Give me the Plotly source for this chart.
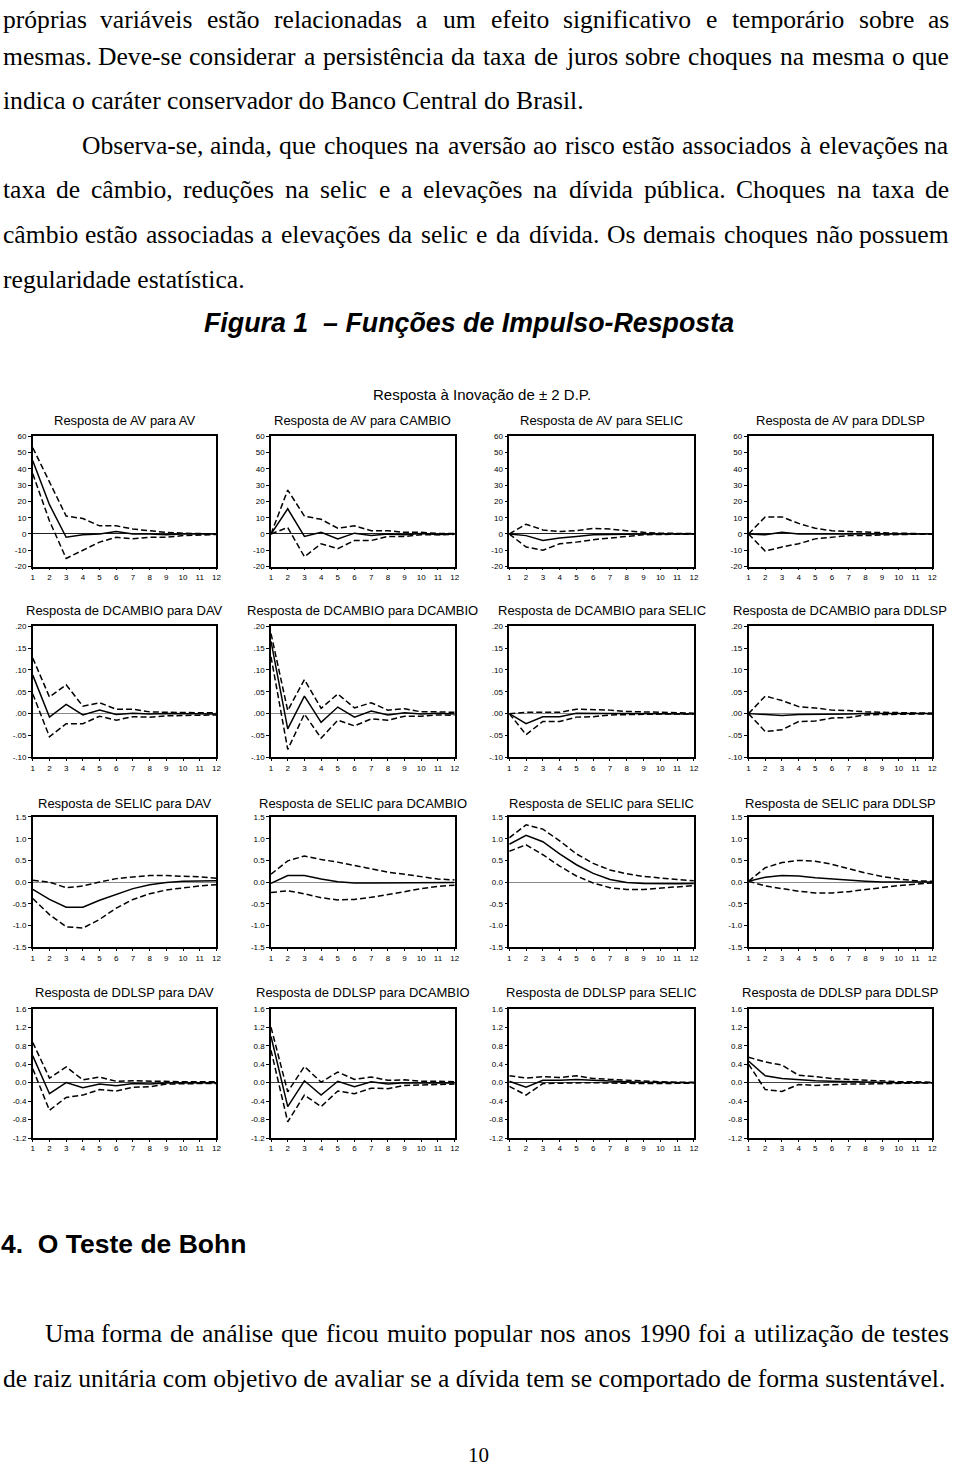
import unicodedata
import plotly.graph_objects as go

W, H = 960, 1469

# ---------------- data ----------------
horizons = list(range(1, 13))

row_titles = [
    ["Resposta de AV para AV", "Resposta de AV para CAMBIO", "Resposta de AV para SELIC", "Resposta de AV para DDLSP"],
    ["Resposta de DCAMBIO para DAV", "Resposta de DCAMBIO para DCAMBIO", "Resposta de DCAMBIO para SELIC", "Resposta de DCAMBIO para DDLSP"],
    ["Resposta de SELIC para DAV", "Resposta de SELIC para DCAMBIO", "Resposta de SELIC para SELIC", "Resposta de SELIC para DDLSP"],
    ["Resposta de DDLSP para DAV", "Resposta de DDLSP para DCAMBIO", "Resposta de DDLSP para SELIC", "Resposta de DDLSP para DDLSP"],
]

# Response of AV (point estimate, upper band, lower band) to each shock
av_mid = [
    [45, 18, -2, -0.5, 0, 1.5, 0, 0, -0.5, 0, 0, 0],
    [0, 15.5, -1.5, 1, -3, 0.5, -1, 0, -0.5, 0.3, -0.3, 0],
    [0, -1, -4, -2.5, -1.5, -0.5, -0.3, 0, 0, 0, 0, 0],
    [0, -0.5, 1, 0, 0, 0, 0, 0, 0, 0, 0, 0],
]
av_up = [
    [53, 32, 11, 9.5, 5, 5, 3, 2, 1, 0.5, 0.3, 0],
    [0, 27, 11, 9, 3.5, 5, 2, 2, 1, 1, 0.3, 0.3],
    [0, 6, 2.5, 1.5, 2, 3.5, 3, 2, 1, 0.5, 0.3, 0.2],
    [0, 10.5, 10.5, 6.5, 3.5, 2, 1.5, 1, 0.8, 0.5, 0.2, 0],
]
av_lo = [
    [37, 8, -15, -10, -5, -2, -3, -2, -2, -1, -0.5, -0.3],
    [0, 4, -14, -6, -9, -4, -4, -1.5, -1.5, -0.5, -0.5, -0.2],
    [0, -8, -10, -6, -5, -3.5, -2.5, -1.5, -0.5, -0.3, -0.2, -0.1],
    [0, -10.5, -8, -6, -3, -2, -1, -1, -0.5, -0.3, -0.2, 0],
]

dcambio_mid = [
    [0.088, -0.008, 0.021, -0.003, 0.008, -0.002, 0.001, -0.001, 0, 0, -0.001, -0.001],
    [0.165, -0.035, 0.04, -0.02, 0.015, -0.008, 0.006, -0.003, 0.002, -0.001, 0.001, -0.001],
    [0, -0.023, -0.007, -0.007, 0.001, 0, 0, 0, 0, 0, 0, -0.001],
    [0, -0.002, -0.004, -0.002, -0.002, -0.001, -0.001, 0, 0, 0, 0, 0],
]
dcambio_up = [
    [0.127, 0.038, 0.066, 0.017, 0.025, 0.01, 0.01, 0.004, 0.003, 0.002, 0.002, 0.002],
    [0.183, 0.007, 0.078, 0.012, 0.045, 0.013, 0.025, 0.008, 0.011, 0.004, 0.004, 0.003],
    [0, 0.003, 0.003, 0.003, 0.01, 0.009, 0.008, 0.005, 0.004, 0.002, 0.001, 0.001],
    [0, 0.04, 0.03, 0.016, 0.013, 0.008, 0.007, 0.004, 0.003, 0.002, 0.001, 0.001],
]
dcambio_lo = [
    [0.045, -0.053, -0.023, -0.023, -0.006, -0.015, -0.007, -0.008, -0.005, -0.004, -0.003, -0.003],
    [0.13, -0.082, -0.001, -0.056, -0.015, -0.028, -0.012, -0.015, -0.006, -0.006, -0.003, -0.004],
    [0, -0.048, -0.018, -0.018, -0.008, -0.007, -0.003, -0.002, -0.002, -0.001, -0.001, -0.001],
    [0, -0.041, -0.037, -0.018, -0.017, -0.01, -0.009, -0.003, -0.002, -0.001, -0.001, -0.001],
]

selic_mid = [
    [-0.17, -0.4, -0.58, -0.58, -0.42, -0.28, -0.15, -0.06, -0.01, 0.02, 0.03, 0.03],
    [-0.03, 0.15, 0.15, 0.07, 0.01, -0.02, -0.02, -0.02, -0.02, -0.01, -0.01, -0.01],
    [0.87, 1.08, 0.93, 0.65, 0.4, 0.2, 0.06, -0.01, -0.03, -0.04, -0.04, -0.03],
    [0.02, 0.11, 0.15, 0.14, 0.1, 0.07, 0.04, 0.02, 0.0, 0.0, -0.01, 0.0],
]
selic_up = [
    [0.04, 0.0, -0.13, -0.09, 0.0, 0.08, 0.12, 0.15, 0.15, 0.14, 0.12, 0.09],
    [0.18, 0.49, 0.6, 0.52, 0.46, 0.38, 0.31, 0.23, 0.18, 0.12, 0.07, 0.05],
    [1.02, 1.32, 1.22, 0.95, 0.65, 0.43, 0.28, 0.19, 0.13, 0.09, 0.06, 0.03],
    [0.02, 0.33, 0.45, 0.5, 0.48, 0.41, 0.31, 0.21, 0.13, 0.07, 0.03, 0.02],
]
selic_lo = [
    [-0.38, -0.75, -1.03, -1.06, -0.86, -0.6, -0.4, -0.27, -0.18, -0.13, -0.09, -0.06],
    [-0.24, -0.2, -0.27, -0.36, -0.41, -0.4, -0.35, -0.29, -0.22, -0.15, -0.1, -0.07],
    [0.71, 0.86, 0.63, 0.37, 0.14, -0.02, -0.13, -0.17, -0.17, -0.14, -0.1, -0.08],
    [0.02, -0.09, -0.15, -0.21, -0.25, -0.25, -0.22, -0.17, -0.13, -0.08, -0.05, -0.02],
]

ddlsp_mid = [
    [0.58, -0.24, 0.0, -0.11, -0.03, -0.07, -0.02, -0.03, -0.01, -0.01, 0, 0],
    [1.0, -0.52, 0.04, -0.27, 0.03, -0.09, 0.02, -0.03, 0.0, -0.01, 0.0, -0.01],
    [0.03, -0.1, 0.05, 0.05, 0.07, 0.05, 0.03, 0.02, 0.01, 0.01, 0.0, 0.0],
    [0.47, 0.15, 0.09, 0.06, 0.04, 0.03, 0.02, 0.01, 0.01, 0.0, 0.0, 0.0],
]
ddlsp_up = [
    [0.87, 0.1, 0.34, 0.06, 0.12, 0.03, 0.04, 0.03, 0.02, 0.02, 0.02, 0.02],
    [1.2, -0.2, 0.35, 0.01, 0.23, 0.07, 0.12, 0.05, 0.06, 0.03, 0.03, 0.02],
    [0.15, 0.1, 0.13, 0.11, 0.15, 0.09, 0.07, 0.05, 0.03, 0.02, 0.01, 0.01],
    [0.55, 0.45, 0.38, 0.16, 0.13, 0.09, 0.07, 0.05, 0.03, 0.02, 0.02, 0.01],
]
ddlsp_lo = [
    [0.3, -0.6, -0.32, -0.27, -0.15, -0.18, -0.1, -0.09, -0.03, -0.02, -0.02, -0.02],
    [0.7, -0.85, -0.27, -0.52, -0.18, -0.24, -0.12, -0.13, -0.06, -0.05, -0.03, -0.03],
    [-0.08, -0.27, -0.02, -0.01, 0.0, 0.0, -0.01, -0.02, -0.02, -0.02, -0.02, -0.01],
    [0.4, -0.15, -0.19, -0.04, -0.06, -0.04, -0.03, -0.03, -0.02, -0.01, -0.01, -0.01],
]

y_ranges = [[-20, 60], [-0.10, 0.20], [-1.5, 1.5], [-1.2, 1.6]]
y_tickvals = [
    [60, 50, 40, 30, 20, 10, 0, -10, -20],
    [0.20, 0.15, 0.10, 0.05, 0.0, -0.05, -0.10],
    [1.5, 1.0, 0.5, 0.0, -0.5, -1.0, -1.5],
    [1.6, 1.2, 0.8, 0.4, 0.0, -0.4, -0.8, -1.2],
]
y_ticktext = [
    ["60", "50", "40", "30", "20", "10", "0", "-10", "-20"],
    [".20", ".15", ".10", ".05", ".00", "-.05", "-.10"],
    ["1.5", "1.0", "0.5", "0.0", "-0.5", "-1.0", "-1.5"],
    ["1.6", "1.2", "0.8", "0.4", "0.0", "-0.4", "-0.8", "-1.2"],
]
zero_colors = ["#222222", "#8a8a8a", "#8a8a8a", "#444444"]

# ---------------- layout geometry (pixels) ----------------
col_px = [(31, 216), (271, 456), (511, 697), (752, 937)]
row_px = [(435, 566), (626, 758), (818, 949), (1011, 1141)]
title_py = [419, 610, 804, 995]

def px_x(p):
    return p / W

def px_y(p):
    return 1 - p / H

mids = [av_mid, dcambio_mid, selic_mid, ddlsp_mid]
ups = [av_up, dcambio_up, selic_up, ddlsp_up]
los = [av_lo, dcambio_lo, selic_lo, ddlsp_lo]

SANS = "Liberation Sans, Arial, sans-serif"
SERIF = "Liberation Serif, Times New Roman, serif"

fig = go.Figure()
layout = {}
annotations = []

idx = 0
for r in range(4):
    for c in range(4):
        idx += 1
        xa = "x" if idx == 1 else f"x{idx}"
        ya = "y" if idx == 1 else f"y{idx}"
        for series, dash in ((ups[r][c], "6px,3px"), (los[r][c], "6px,3px"), (mids[r][c], "solid")):
            fig.add_trace(go.Scatter(
                x=horizons, y=series, mode="lines", xaxis=xa, yaxis=ya,
                line=dict(color="black", width=1.5, dash=dash),
                showlegend=False, hoverinfo="skip"))
        x0, x1 = col_px[c]
        y0, y1 = row_px[r]
        layout["xaxis" if idx == 1 else f"xaxis{idx}"] = dict(
            domain=[px_x(x0), px_x(x1)], anchor=ya, range=[1, 12],
            tickvals=horizons, ticktext=[str(h) for h in horizons],
            ticks="outside", ticklen=2, tickwidth=1, tickcolor="black",
            tickfont=dict(family=SANS, size=8, color="black"),
            showline=True, mirror=True, linecolor="black", linewidth=1.5,
            showgrid=False, zeroline=False, fixedrange=True)
        layout["yaxis" if idx == 1 else f"yaxis{idx}"] = dict(
            domain=[px_y(y1), px_y(y0)], anchor=xa, range=y_ranges[r],
            tickvals=y_tickvals[r], ticktext=y_ticktext[r],
            ticks="outside", ticklen=3, tickwidth=1, tickcolor="black",
            tickfont=dict(family=SANS, size=8, color="black"),
            showline=True, mirror=True, linecolor="black", linewidth=1.5,
            showgrid=False, zeroline=True, zerolinecolor=zero_colors[r], zerolinewidth=1,
            fixedrange=True)
        annotations.append(dict(
            x=px_x((x0 + x1) / 2), y=px_y(title_py[r]), xref="paper", yref="paper",
            text=row_titles[r][c], showarrow=False, xanchor="center", yanchor="middle",
            font=dict(family=SANS, size=13, color="black")))

# ---------------- page text ----------------
TIMES_W = {
    " ": 250, "a": 444, "b": 500, "c": 444, "d": 500, "e": 444, "f": 333, "g": 500, "h": 500,
    "i": 278, "j": 278, "k": 500, "l": 278, "m": 778, "n": 500, "o": 500, "p": 500, "q": 500,
    "r": 333, "s": 389, "t": 278, "u": 500, "v": 500, "w": 722, "x": 500, "y": 500, "z": 444,
    "A": 722, "B": 667, "C": 667, "D": 722, "E": 611, "F": 556, "G": 722, "H": 722, "I": 333,
    "J": 389, "K": 722, "L": 611, "M": 889, "N": 722, "O": 722, "P": 556, "Q": 722, "R": 667,
    "S": 556, "T": 611, "U": 722, "V": 722, "W": 944, "X": 722, "Y": 722, "Z": 611,
    ".": 250, ",": 250, "-": 333, ":": 278, ";": 278,
}

def word_width(word, size):
    total = 0
    for ch in word:
        base = unicodedata.normalize("NFD", ch)[0]
        if base.isdigit():
            total += 500
        else:
            total += TIMES_W.get(base, 500)
    return total * size / 1000.0

def text(x, y, s, size, family=SERIF, anchor="left", bold=False, italic=False, yanchor="middle"):
    t = s
    if bold:
        t = f"<b>{t}</b>"
    if italic:
        t = f"<i>{t}</i>"
    annotations.append(dict(
        x=px_x(x), y=px_y(y), xref="paper", yref="paper", text=t, showarrow=False,
        xanchor=anchor, yanchor=yanchor, borderpad=0,
        font=dict(family=family, size=size, color="black")))

def justified(x_left, x_right, y, s, size, yanchor="middle"):
    words = s.split(" ")
    widths = [word_width(w, size) for w in words]
    gap = (x_right - x_left - sum(widths)) / (len(words) - 1)
    x = x_left
    for i, (w, wd) in enumerate(zip(words, widths)):
        if i == 0:
            text(x_left, y, w, size, anchor="left", yanchor=yanchor)
        elif i == len(words) - 1:
            text(x_right, y, w, size, anchor="right", yanchor=yanchor)
        else:
            text(x + wd / 2, y, w, size, anchor="center", yanchor=yanchor)
        x += wd + gap

BODY = 25.6
justified(0, 955, 0, "próprias variáveis estão relacionadas a um efeito significativo e temporário sobre as", BODY, yanchor="top")
justified(0, 955, 53, "mesmas. Deve-se considerar a persistência da taxa de juros sobre choques na mesma o que", BODY)
text(0, 97, "indica o caráter conservador do Banco Central do Brasil.", BODY)
justified(80, 955, 142, "Observa-se, ainda, que choques na aversão ao risco estão associados à elevações na", BODY)
justified(0, 955, 187, "taxa de câmbio, reduções na selic e a elevações na dívida pública. Choques na taxa de", BODY)
justified(0, 955, 232, "câmbio estão associadas a elevações da selic e da dívida. Os demais choques não possuem", BODY)
text(0, 277, "regularidade estatística.", BODY)

text(470, 321, "Figura 1  – Funções de Impulso-Resposta", 26.8, family=SANS, anchor="center", bold=True, italic=True)
text(484, 393, "Resposta à Inovação de ± 2 D.P.", 15, family=SANS, anchor="center")

text(-2, 1248, "4.  O Teste de Bohn", 26.5, family=SANS, bold=True)
justified(42, 955, 1338, "Uma forma de análise que ficou muito popular nos anos 1990 foi a utilização de testes", BODY)
text(0, 1383, "de raiz unitária com objetivo de avaliar se a dívida tem se comportado de forma sustentável.", BODY)
text(480, 1460, "10", 21, anchor="center")

fig.update_layout(
    width=W, height=H, margin=dict(l=0, r=0, t=0, b=0),
    paper_bgcolor="white", plot_bgcolor="white",
    annotations=annotations, showlegend=False, **layout)

fig.write_html("out.html", config={"displayModeBar": False})
